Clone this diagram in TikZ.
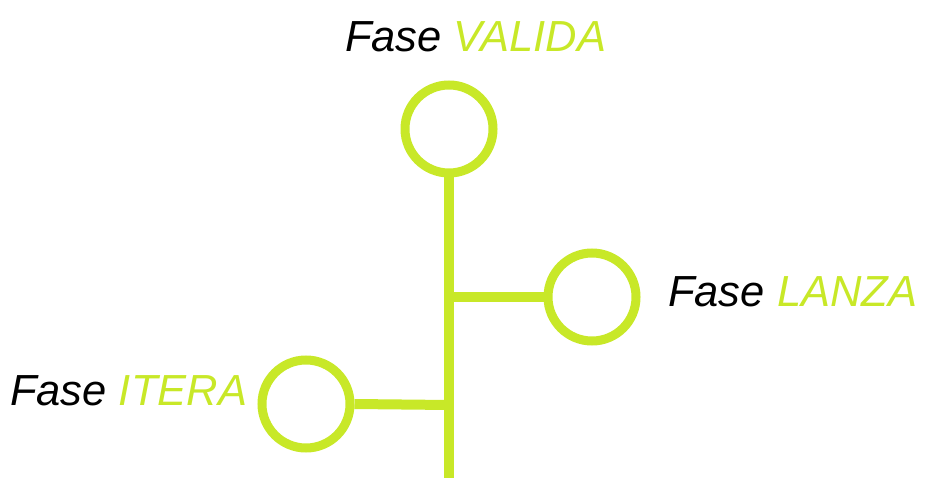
\documentclass[tikz,border=0pt]{standalone}
\usepackage{fontspec}
\setmainfont{Liberation Sans}
\definecolor{lime}{RGB}{200,232,40}
\begin{document}
\begin{tikzpicture}[x=1pt,y=-1pt,
  phase/.style={circle,draw=lime,line width=9pt,minimum size=88pt,inner sep=0pt},
  link/.style={draw=lime,line width=10pt},
  lbl/.style={anchor=base west,inner sep=0pt,font=\fontsize{43.5}{48}\selectfont\itshape}]
\useasboundingbox (0,0) rectangle (925,478);
\node[phase] (valida) at (449,129) {};
\node[phase] (lanza) at (592,297) {};
\node[phase] (itera) at (306,404) {};
\coordinate (bottom) at (449,478);
\coordinate (jl) at (449,297);
\coordinate (ji) at (449,405);
\draw[link] (valida.south) -- (bottom);
\draw[link] (jl) -- (lanza.west);
\draw[link] (ji) -- (itera.east);
\node[lbl] (tv) at (345,52) {Fase \textcolor{lime}{VALIDA}};
\node[lbl] (tl) at (668,306) {Fase \textcolor{lime}{LANZA}};
\node[lbl] (ti) at (10,405) {Fase \textcolor{lime}{ITERA}};
\end{tikzpicture}
\end{document}
